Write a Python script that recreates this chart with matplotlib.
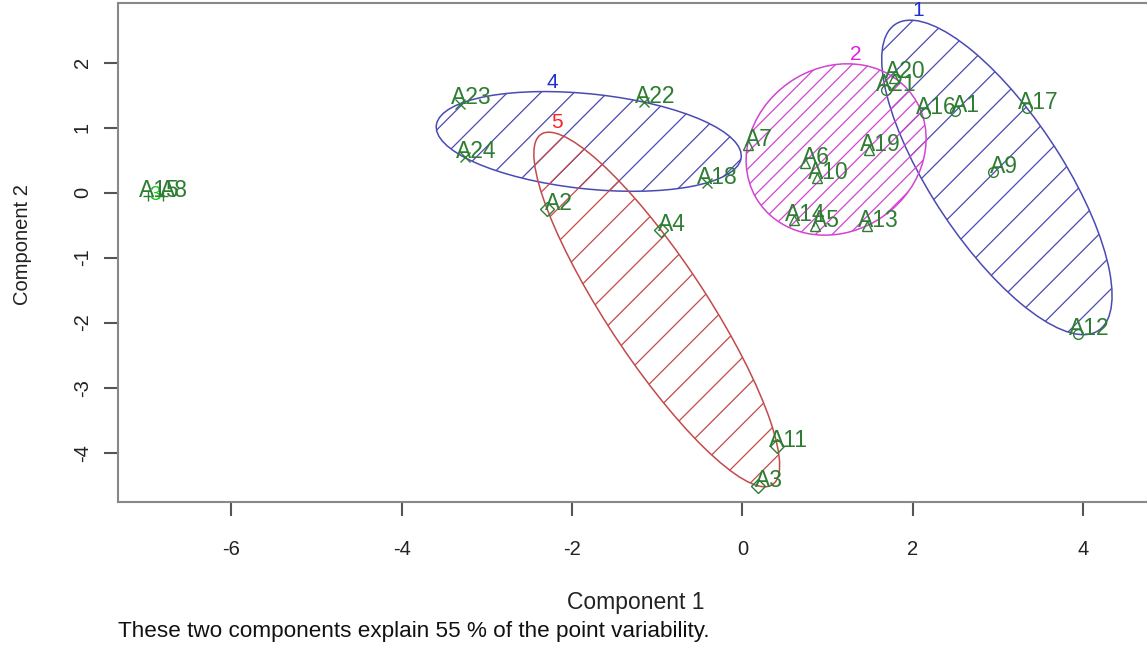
import numpy as np
import matplotlib
matplotlib.use('Agg')
import matplotlib.pyplot as plt
from matplotlib.patches import Ellipse

plt.rcParams['font.family'] = ['Liberation Sans', 'DejaVu Sans']
plt.rcParams['hatch.linewidth'] = 0.9
plt.rcParams['axes.unicode_minus'] = False

# point labels, cluster and coordinates on the two components
labels = ['A21', 'A16', 'A1', 'A17', 'A9', 'A12',
          'A7', 'A6', 'A10', 'A19', 'A14', 'A5', 'A13', 'A20',
          'A15', 'A8',
          'A23', 'A24', 'A22', 'A18',
          'A2', 'A4', 'A11', 'A3']
cluster = [1, 1, 1, 1, 1, 1,
           2, 2, 2, 2, 2, 2, 2, 2,
           3, 3,
           4, 4, 4, 4,
           5, 5, 5, 5]
comp1 = [1.68, 2.14, 2.49, 3.34, 2.94, 3.94,
         0.06, 0.73, 0.88, 1.49, 0.61, 0.85, 1.46, 1.78,
         -6.98, -6.80,
         -3.31, -3.26, -1.15, -0.42,
         -2.29, -0.96, 0.41, 0.18]
comp2 = [1.58, 1.23, 1.25, 1.30, 0.32, -2.18,
         0.73, 0.46, 0.23, 0.66, -0.42, -0.51, -0.51, 1.77,
         -0.05, -0.05,
         1.37, 0.54, 1.39, 0.15,
         -0.26, -0.57, -3.90, -4.51]

clus_ids = [1, 2, 3, 4, 5]
clus_line = {1: '#4a4ab4', 2: '#d244d2', 3: '#22c022', 4: '#4a4ab4', 5: '#c44a4a'}
clus_text = {1: '#1f2fd0', 2: '#e020e0', 3: '#22c022', 4: '#1f2fd0', 5: '#ff2020'}
clus_hatch = {1: '/', 2: '//', 3: '/', 4: '/', 5: '/'}
clus_marker = {1: 'o', 2: '^', 3: '+', 4: 'x', 5: 'D'}
pt_col = '#2e7d32'


def mvee(P, tol=1e-5, max_iter=5000):
    # minimum volume enclosing ellipse (Khachiyan), like R's ellipsoidhull
    n, d = P.shape
    Q = np.vstack([P.T, np.ones(n)])
    u = np.ones(n) / n
    for _ in range(max_iter):
        X = Q @ np.diag(u) @ Q.T
        M = np.einsum('ij,ji->i', Q.T @ np.linalg.inv(X), Q)
        j = np.argmax(M)
        step = (M[j] - d - 1) / ((d + 1) * (M[j] - 1))
        new_u = (1 - step) * u
        new_u[j] += step
        err = np.linalg.norm(new_u - u)
        u = new_u
        if err < tol:
            break
    c = P.T @ u
    A = np.linalg.inv(P.T @ np.diag(u) @ P - np.outer(c, c)) / d
    # scale so every point is inside
    dist = np.einsum('ij,jk,ik->i', P - c, A, P - c)
    A = A / dist.max()
    return c, A


fig = plt.figure(figsize=(11.47, 6.5), dpi=100)
ax = fig.add_axes([0.1031, 0.2283, 0.9169, 0.7668])

x = np.array(comp1)
y = np.array(comp2)
cl = np.array(cluster)

for k in clus_ids:
    P = np.column_stack([x[cl == k], y[cl == k]])
    if len(P) < 3:
        c = P.mean(axis=0)
        ax.annotate(str(k), (c[0], c[1]), xytext=(0, 1), textcoords='offset points',
                    ha='center', va='center', color=clus_text[k], fontsize=15)
        continue
    c, A = mvee(P)
    vals, vecs = np.linalg.eigh(A)
    semi = 1 / np.sqrt(vals)
    ang = np.degrees(np.arctan2(vecs[1, 0], vecs[0, 0]))
    ax.add_patch(Ellipse(c, 2 * semi[0], 2 * semi[1], angle=ang, facecolor='none',
                         edgecolor=clus_line[k], hatch=clus_hatch[k], linewidth=1.1))
    # top of ellipse for the cluster number
    t = np.linspace(0, 2 * np.pi, 720)
    ex = c[0] + semi[0] * np.cos(t) * vecs[0, 0] + semi[1] * np.sin(t) * vecs[0, 1]
    ey = c[1] + semi[0] * np.cos(t) * vecs[1, 0] + semi[1] * np.sin(t) * vecs[1, 1]
    i = np.argmax(ey)
    ax.annotate(str(k), (ex[i], ey[i]), xytext=(6, 0), textcoords='offset points',
                ha='center', va='bottom', color=clus_text[k], fontsize=15)

for lab, px, py, k in zip(labels, comp1, comp2, cluster):
    ax.plot(px, py, linestyle='none', marker=clus_marker[k], markersize=7,
            markerfacecolor='none', markeredgecolor=pt_col, markeredgewidth=1)
    ax.annotate(lab, (px, py), xytext=(8, 4), textcoords='offset points',
                ha='center', va='center', color=pt_col, fontsize=16.5)

ax.set_xlim(-7.326, 5.018)
ax.set_ylim(-4.754, 2.914)
ax.set_xticks([-6, -4, -2, 0, 2, 4])
ax.set_yticks([-4, -3, -2, -1, 0, 1, 2])
ax.tick_params(axis='x', length=10, width=1.5, color='#555555', pad=18,
               labelsize=14.5, labelcolor='#222222')
ax.tick_params(axis='y', length=10, width=1.5, color='#555555', pad=9,
               labelsize=14.5, labelcolor='#222222', labelrotation=90)
for lbl in ax.get_yticklabels():
    lbl.set_va('center')
for s in ax.spines.values():
    s.set_color('#888888')
    s.set_linewidth(1.5)

fig.text(636 / 1147, 1 - 603 / 650, 'Component 1', ha='center', va='center',
         fontsize=16.5, color='#222222')
fig.text(22 / 1147, 1 - 245 / 650, 'Component 2', ha='center', va='center',
         rotation=90, fontsize=14.5, color='#222222')
fig.text(118 / 1147, 1 - 631 / 650,
         'These two components explain 55 % of the point variability.',
         ha='left', va='center', fontsize=16.2, color='#111111')

fig.savefig('out.png', dpi=100)
